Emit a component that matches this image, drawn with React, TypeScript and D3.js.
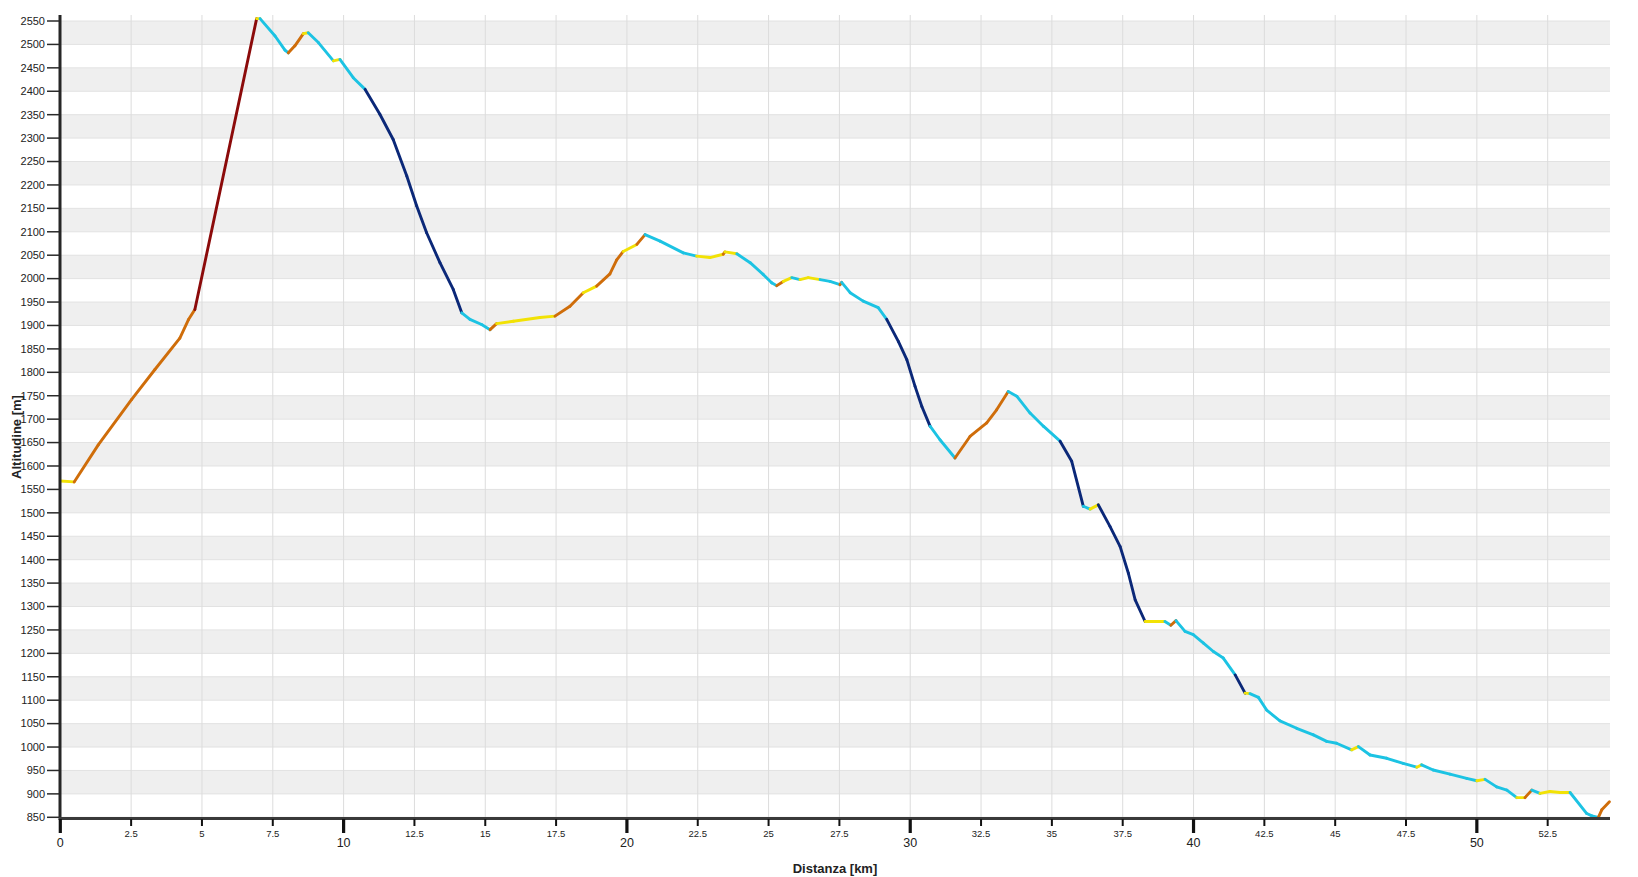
import React from "react";
import * as d3 from "d3";

const distKm: number[] = [
  0.0, 0.49, 1.34, 2.52, 3.34, 4.22, 4.52, 4.75, 6.93, 7.05, 7.58, 7.93, 8.05, 8.28, 8.58, 8.75, 9.11, 9.64, 9.87,
  10.34, 10.76, 11.28, 11.75, 12.23, 12.58, 12.93, 13.4, 13.87, 14.17, 14.46, 14.87, 15.17, 15.4, 15.99, 16.93,
  17.46, 17.99, 18.46, 18.93, 19.4, 19.64, 19.87, 20.35, 20.64, 21.17, 21.99, 22.46, 22.93, 23.4, 23.46, 23.88,
  24.35, 24.81, 25.11, 25.29, 25.52, 25.82, 26.11, 26.4, 26.82, 27.17, 27.52, 27.58, 27.88, 28.34, 28.87, 29.17,
  29.58, 29.88, 30.17, 30.41, 30.7, 31.05, 31.58, 32.11, 32.7, 33.05, 33.46, 33.76, 34.23, 34.7, 35.29, 35.7,
  36.11, 36.35, 36.64, 37.05, 37.41, 37.7, 37.94, 38.29, 38.7, 38.99, 39.2, 39.38, 39.7, 39.99, 40.35, 40.7,
  41.05, 41.47, 41.82, 41.99, 42.29, 42.58, 43.05, 43.64, 44.23, 44.7, 45.05, 45.58, 45.82, 46.23, 46.82, 47.4,
  47.88, 48.05, 48.46, 49.05, 49.64, 50.0, 50.29, 50.7, 51.06, 51.41, 51.7, 51.94, 52.23, 52.58, 52.94, 53.29,
  53.88, 54.06, 54.29, 54.41, 54.68,
];

const altM: number[] = [
  1568, 1566, 1645, 1742, 1806, 1873, 1912, 1934, 2555, 2555, 2518, 2488, 2482, 2497, 2523, 2525, 2504, 2465, 2468,
  2429, 2404, 2351, 2297, 2219, 2155, 2098, 2034, 1977, 1927, 1913, 1902, 1891, 1904, 1909, 1917,
  1920, 1941, 1970, 1984, 2010, 2040, 2058, 2073, 2094, 2080, 2055, 2048, 2045, 2052, 2057, 2053,
  2034, 2009, 1991, 1985, 1994, 2002, 1998, 2002, 1998, 1994, 1987, 1992, 1970, 1952, 1938, 1913,
  1866, 1827, 1770, 1727, 1685, 1656, 1617, 1663, 1692, 1720, 1759, 1749, 1713, 1685, 1653, 1610,
  1514, 1508, 1517, 1471, 1428, 1371, 1314, 1268, 1268, 1268, 1260, 1270, 1247, 1240, 1222, 1204,
  1190, 1154, 1115, 1114, 1106, 1079, 1056, 1040, 1026, 1012, 1008, 994, 1001, 983, 976, 965,
  957, 962, 951, 942, 933, 928, 931, 915, 908, 892, 892, 908, 901, 905, 903, 903,
  858, 853, 850, 866, 883,
];

const yTicks: number[] = d3.range(850, 2551, 50);
const xTicks: number[] = d3.range(0, 54.7, 2.5);
const xMajor: number[] = [0, 10, 20, 30, 40, 50];

const slopeColors = {
  steepUp: "#8b0a0a",
  up: "#cf6d0a",
  flat: "#f2e205",
  down: "#1cc3e3",
  steepDown: "#0b2878",
};

function colorForGrade(g: number): string {
  if (g >= 15) return slopeColors.steepUp;
  if (g >= 3.5) return slopeColors.up;
  if (g >= -1) return slopeColors.flat;
  if (g > -10) return slopeColors.down;
  return slopeColors.steepDown;
}

export default function App() {
  const W = 1638;
  const H = 877;
  const left = 60.3;
  const right = 1610;
  const top = 15;
  const bottom = 818;

  const x = d3.scaleLinear().domain([0, 54.7]).range([left, right]);
  const y = d3.scaleLinear().domain([850, 2550]).range([817.3, 21]);

  const font = "'Liberation Sans', Arial, sans-serif";

  const segments = distKm.slice(0, -1).map((d, i) => {
    const dx = (distKm[i + 1] - d) * 1000;
    const g = ((altM[i + 1] - altM[i]) / dx) * 100;
    return { i, x1: x(d), y1: y(altM[i]), x2: x(distKm[i + 1]), y2: y(altM[i + 1]), c: colorForGrade(g) };
  });

  const bands = yTicks.filter((v) => v % 100 === 0 && v + 50 <= 2550 && v >= 900);

  return (
    <svg
      width={W}
      height={H}
      style={{ position: "fixed", left: 0, top: 0, background: "#fff" }}
      fontFamily={font}
    >
      <rect x={0} y={0} width={W} height={H} fill="#ffffff" />
      {bands.map((v) => (
        <rect key={"b" + v} x={left} y={y(v + 50)} width={right - left} height={y(v) - y(v + 50)} fill="#efefef" />
      ))}
      {yTicks.map((v) => (
        <line key={"hg" + v} x1={left} x2={right} y1={y(v)} y2={y(v)} stroke="#e2e2e2" strokeWidth={1} />
      ))}
      {xTicks.filter((v) => v > 0).map((v) => (
        <line key={"vg" + v} x1={x(v)} x2={x(v)} y1={top} y2={bottom} stroke="#dcdcdc" strokeWidth={1} />
      ))}

      {segments.map((s) => (
        <line
          key={"s" + s.i}
          x1={s.x1}
          y1={s.y1}
          x2={s.x2}
          y2={s.y2}
          stroke={s.c}
          strokeWidth={2.9}
          strokeLinecap="round"
        />
      ))}

      {/* Y axis */}
      <line x1={60} x2={60} y1={top} y2={820} stroke="#262626" strokeWidth={3} />
      {yTicks.map((v) => (
        <g key={"yt" + v}>
          <line x1={47} x2={59} y1={y(v)} y2={y(v)} stroke="#2a2a2a" strokeWidth={1.5} />
          <text x={45} y={y(v)} dy="0.35em" textAnchor="end" fontSize={11} fill="#222">
            {v}
          </text>
        </g>
      ))}

      {/* X axis */}
      <line x1={59} x2={right} y1={818.5} y2={818.5} stroke="#3a3a3a" strokeWidth={3} />
      {xTicks.map((v) => {
        const major = xMajor.includes(v);
        return (
          <g key={"xt" + v}>
            <line
              x1={x(v)}
              x2={x(v)}
              y1={819}
              y2={major ? 833 : 826}
              stroke="#111"
              strokeWidth={major ? 3.2 : 2}
            />
            <text
              x={x(v)}
              y={major ? 847 : 837}
              textAnchor="middle"
              fontSize={major ? 12.5 : 9.5}
              fill="#222"
            >
              {d3.format("~")(v)}
            </text>
          </g>
        );
      })}

      <text x={835} y={873} textAnchor="middle" fontSize={13} fontWeight="bold" fill="#222">
        Distanza [km]
      </text>
      <text
        transform="translate(21,437) rotate(-90)"
        textAnchor="middle"
        fontSize={13}
        fontWeight="bold"
        fill="#222"
      >
        Altitudine [m]
      </text>
    </svg>
  );
}
